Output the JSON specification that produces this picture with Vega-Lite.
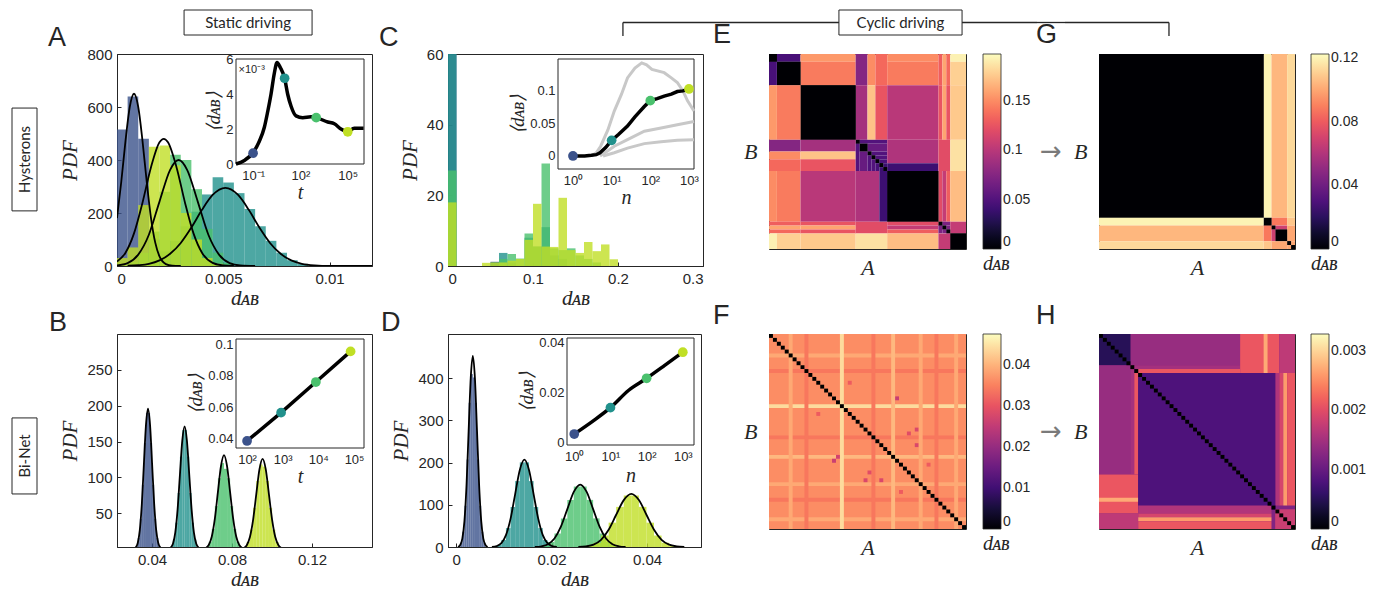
{
"$schema":"https://vega.github.io/schema/vega-lite/v6.json",
"padding":{"left":11,"top":9,"right":0,"bottom":0},
"columns":11,
"bounds":"flush",
"center":true,
"spacing":{"row":19,"column":0},
"resolve":{"scale":{"color":"independent"},"legend":{"color":"independent"}},
"config":{
 "view":{"stroke":null},
 "font":"Liberation Sans",
 "axis":{"grid":false,"labelFont":"Liberation Sans","labelFontSize":15,"labelColor":"#262626","titleFont":"Liberation Serif","titleFontStyle":"italic","titleFontWeight":"normal","titleFontSize":21,"titleColor":"#262626","domainColor":"#262626","tickColor":"#262626","tickSize":-4,"labelPadding":9,"zindex":1},
 "axisX":{"titlePadding":1},
 "axisY":{"titlePadding":6},
 "legend":{"labelFont":"Liberation Sans","labelFontSize":14,"labelColor":"#262626","titleFont":"Liberation Serif","titleFontStyle":"italic","titleFontWeight":"normal","titleFontSize":20,"titleColor":"#262626","gradientThickness":18,"gradientLength":195,"titleOrient":"bottom","padding":0,"offset":17,"gradientStrokeColor":"#262626","gradientStrokeWidth":0.8,"labelOffset":4},
 "title":{"font":"Liberation Sans","fontSize":27,"fontWeight":"normal","color":"#262626","anchor":"start","frame":"group","offset":0,"baseline":"alphabetic","orient":"top"}
},
"datasets":{
"histA":[
{"s":"b","a":0,"b":0.0005,"y":515},{"s":"b","a":0.0005,"b":0.001,"y":640},{"s":"b","a":0.001,"b":0.0015,"y":480},{"s":"b","a":0.0015,"b":0.002,"y":100},{"s":"b","a":0.002,"b":0.0025,"y":25},
{"s":"t","a":0.0005,"b":0.001,"y":5},{"s":"t","a":0.001,"b":0.0015,"y":12},{"s":"t","a":0.0015,"b":0.002,"y":28},{"s":"t","a":0.002,"b":0.0025,"y":55},{"s":"t","a":0.0025,"b":0.003,"y":95},{"s":"t","a":0.003,"b":0.0035,"y":150},{"s":"t","a":0.0035,"b":0.004,"y":205},{"s":"t","a":0.004,"b":0.0045,"y":270},{"s":"t","a":0.0045,"b":0.005,"y":335},{"s":"t","a":0.005,"b":0.0055,"y":315},{"s":"t","a":0.0055,"b":0.006,"y":275},{"s":"t","a":0.006,"b":0.0065,"y":215},{"s":"t","a":0.0065,"b":0.007,"y":150},{"s":"t","a":0.007,"b":0.0075,"y":95},{"s":"t","a":0.0075,"b":0.008,"y":50},{"s":"t","a":0.008,"b":0.0085,"y":22},{"s":"t","a":0.0085,"b":0.009,"y":8},
{"s":"g","a":0,"b":0.0005,"y":5},{"s":"g","a":0.0005,"b":0.001,"y":15},{"s":"g","a":0.001,"b":0.0015,"y":50},{"s":"g","a":0.0015,"b":0.002,"y":130},{"s":"g","a":0.002,"b":0.0025,"y":280},{"s":"g","a":0.0025,"b":0.003,"y":420},{"s":"g","a":0.003,"b":0.0035,"y":400},{"s":"g","a":0.0035,"b":0.004,"y":290},{"s":"g","a":0.004,"b":0.0045,"y":140},{"s":"g","a":0.0045,"b":0.005,"y":50},{"s":"g","a":0.005,"b":0.0055,"y":12},
{"s":"y","a":0,"b":0.0005,"y":30},{"s":"y","a":0.0005,"b":0.001,"y":70},{"s":"y","a":0.001,"b":0.0015,"y":230},{"s":"y","a":0.0015,"b":0.002,"y":450},{"s":"y","a":0.002,"b":0.0025,"y":455},{"s":"y","a":0.0025,"b":0.003,"y":380},{"s":"y","a":0.003,"b":0.0035,"y":200},{"s":"y","a":0.0035,"b":0.004,"y":100},{"s":"y","a":0.004,"b":0.0045,"y":30},{"s":"y","a":0.0045,"b":0.005,"y":8}
],
"curveA":[
{"s":"b","x":0,"y":181},{"s":"b","x":0.0002,"y":317},{"s":"b","x":0.0004,"y":472},{"s":"b","x":0.0006,"y":600},{"s":"b","x":0.0008,"y":650},{"s":"b","x":0.001,"y":600},{"s":"b","x":0.0012,"y":472},{"s":"b","x":0.0014,"y":317},{"s":"b","x":0.0016,"y":181},{"s":"b","x":0.0018,"y":88},{"s":"b","x":0.002,"y":36},{"s":"b","x":0.0023,"y":7},{"s":"b","x":0.0026,"y":1},{"s":"b","x":0.003,"y":0},
{"s":"y","x":0,"y":17},{"s":"y","x":0.0004,"y":50},{"s":"y","x":0.0008,"y":123},{"s":"y","x":0.0012,"y":239},{"s":"y","x":0.0016,"y":373},{"s":"y","x":0.002,"y":467},{"s":"y","x":0.0022,"y":480},{"s":"y","x":0.0024,"y":467},{"s":"y","x":0.0028,"y":373},{"s":"y","x":0.0032,"y":239},{"s":"y","x":0.0036,"y":123},{"s":"y","x":0.004,"y":50},{"s":"y","x":0.0045,"y":12},{"s":"y","x":0.005,"y":2},{"s":"y","x":0.0055,"y":0},
{"s":"g","x":0,"y":2},{"s":"g","x":0.0005,"y":11},{"s":"g","x":0.001,"y":43},{"s":"g","x":0.0015,"y":118},{"s":"g","x":0.002,"y":243},{"s":"g","x":0.0025,"y":363},{"s":"g","x":0.0029,"y":400},{"s":"g","x":0.0033,"y":363},{"s":"g","x":0.0038,"y":243},{"s":"g","x":0.0043,"y":118},{"s":"g","x":0.0048,"y":43},{"s":"g","x":0.0053,"y":11},{"s":"g","x":0.0058,"y":2},{"s":"g","x":0.0065,"y":0},
{"s":"t","x":0.0005,"y":1},{"s":"t","x":0.001,"y":3},{"s":"t","x":0.0015,"y":8},{"s":"t","x":0.002,"y":21},{"s":"t","x":0.0025,"y":46},{"s":"t","x":0.003,"y":87},{"s":"t","x":0.0035,"y":145},{"s":"t","x":0.004,"y":212},{"s":"t","x":0.0045,"y":268},{"s":"t","x":0.0051,"y":295},{"s":"t","x":0.0057,"y":268},{"s":"t","x":0.0062,"y":212},{"s":"t","x":0.0067,"y":145},{"s":"t","x":0.0072,"y":87},{"s":"t","x":0.0077,"y":46},{"s":"t","x":0.0082,"y":21},{"s":"t","x":0.0087,"y":8},{"s":"t","x":0.0093,"y":2},{"s":"t","x":0.01,"y":0},{"s":"t","x":0.012,"y":0}
],
"insA":[
{"t":0.0083,"v":0},{"t":0.028,"v":0.0002},{"t":0.1,"v":0.00065},{"t":0.25,"v":0.0013},{"t":0.52,"v":0.0021},{"t":0.85,"v":0.003},{"t":1.38,"v":0.004},{"t":2.24,"v":0.0052},{"t":3.3,"v":0.0058},{"t":5.4,"v":0.0055},{"t":10,"v":0.0049},{"t":15.5,"v":0.004},{"t":25.7,"v":0.0033},{"t":52.5,"v":0.00275},{"t":141,"v":0.00265},{"t":468,"v":0.0027},{"t":1000,"v":0.00265},{"t":5370,"v":0.0024},{"t":14100,"v":0.0023},{"t":37150,"v":0.002},{"t":100000,"v":0.00185},{"t":257000,"v":0.00205},{"t":1000000,"v":0.00205}
],
"ptsA":[{"s":"b","t":0.1,"v":0.00062},{"s":"t","t":10,"v":0.0049},{"s":"g","t":1000,"v":0.00265},{"s":"y","t":100000,"v":0.00184}],
"histC":[
{"s":"b","a":0,"b":0.01,"y":100},{"s":"b","a":0.05,"b":0.06,"y":1.2},
{"s":"t","a":0,"b":0.01,"y":80},{"s":"t","a":0.05,"b":0.06,"y":1},{"s":"t","a":0.06,"b":0.07,"y":3.7},{"s":"t","a":0.07,"b":0.08,"y":1},{"s":"t","a":0.09,"b":0.1,"y":8},{"s":"t","a":0.1,"b":0.11,"y":5.5},{"s":"t","a":0.11,"b":0.12,"y":11},{"s":"t","a":0.12,"b":0.13,"y":3},{"s":"t","a":0.13,"b":0.14,"y":2},
{"s":"g","a":0,"b":0.01,"y":27},{"s":"g","a":0.06,"b":0.07,"y":2},{"s":"g","a":0.07,"b":0.08,"y":3.4},{"s":"g","a":0.08,"b":0.09,"y":2.1},{"s":"g","a":0.09,"b":0.1,"y":9.2},{"s":"g","a":0.1,"b":0.11,"y":5.5},{"s":"g","a":0.11,"b":0.12,"y":29},{"s":"g","a":0.12,"b":0.13,"y":5},{"s":"g","a":0.13,"b":0.14,"y":4.5},{"s":"g","a":0.14,"b":0.15,"y":5},{"s":"g","a":0.15,"b":0.16,"y":3},{"s":"g","a":0.16,"b":0.17,"y":2},{"s":"g","a":0.17,"b":0.18,"y":1},
{"s":"y","a":0,"b":0.01,"y":18},{"s":"y","a":0.04,"b":0.05,"y":0.9},{"s":"y","a":0.05,"b":0.06,"y":1},{"s":"y","a":0.06,"b":0.07,"y":1},{"s":"y","a":0.07,"b":0.08,"y":1.5},{"s":"y","a":0.08,"b":0.09,"y":2},{"s":"y","a":0.09,"b":0.1,"y":7.4},{"s":"y","a":0.1,"b":0.11,"y":17.6},{"s":"y","a":0.11,"b":0.12,"y":5.5},{"s":"y","a":0.12,"b":0.13,"y":5.4},{"s":"y","a":0.13,"b":0.14,"y":19.3},{"s":"y","a":0.14,"b":0.15,"y":4.5},{"s":"y","a":0.15,"b":0.16,"y":3.7},{"s":"y","a":0.16,"b":0.17,"y":6.8},{"s":"y","a":0.17,"b":0.18,"y":4.2},{"s":"y","a":0.18,"b":0.19,"y":6.1},{"s":"y","a":0.19,"b":0.2,"y":1.9}
],
"insCg":[
{"s":"g1","n":3,"v":0},{"s":"g1","n":4,"v":0.005},{"s":"g1","n":5.2,"v":0.015},{"s":"g1","n":8,"v":0.04},{"s":"g1","n":11.7,"v":0.069},{"s":"g1","n":18,"v":0.095},{"s":"g1","n":25.7,"v":0.12},{"s":"g1","n":40,"v":0.135},{"s":"g1","n":60,"v":0.143},{"s":"g1","n":80,"v":0.14},{"s":"g1","n":110,"v":0.133},{"s":"g1","n":229,"v":0.128},{"s":"g1","n":350,"v":0.12},{"s":"g1","n":500,"v":0.113},{"s":"g1","n":700,"v":0.1},{"s":"g1","n":912,"v":0.085},{"s":"g1","n":1350,"v":0.069},
{"s":"g2","n":5,"v":0},{"s":"g2","n":8,"v":0.008},{"s":"g2","n":11.7,"v":0.015},{"s":"g2","n":25.7,"v":0.025},{"s":"g2","n":70,"v":0.038},{"s":"g2","n":190,"v":0.043},{"s":"g2","n":500,"v":0.048},{"s":"g2","n":1350,"v":0.053},
{"s":"g3","n":6,"v":0},{"s":"g3","n":11.7,"v":0.005},{"s":"g3","n":25.7,"v":0.012},{"s":"g3","n":70,"v":0.019},{"s":"g3","n":190,"v":0.022},{"s":"g3","n":500,"v":0.024},{"s":"g3","n":1350,"v":0.025}
],
"insCk":[
{"n":1,"v":0},{"n":2,"v":0},{"n":3,"v":0.001},{"n":4,"v":0.002},{"n":5,"v":0.005},{"n":7,"v":0.013},{"n":10,"v":0.024},{"n":15,"v":0.033},{"n":25.7,"v":0.046},{"n":40,"v":0.06},{"n":51,"v":0.067},{"n":70,"v":0.076},{"n":100,"v":0.085},{"n":150,"v":0.088},{"n":229,"v":0.092},{"n":350,"v":0.095},{"n":500,"v":0.099},{"n":700,"v":0.1},{"n":1000,"v":0.103}
],
"ptsC":[{"s":"b","n":1,"v":0},{"s":"t","n":10,"v":0.024},{"s":"g","n":100,"v":0.085},{"s":"y","n":1000,"v":0.103}],
"histB":[
{"s":"b","a":0.03185,"b":0.03288,"y":4.5},{"s":"b","a":0.03288,"b":0.0339,"y":15.6},{"s":"b","a":0.0339,"b":0.03493,"y":42.3},{"s":"b","a":0.03493,"b":0.03595,"y":89.8},{"s":"b","a":0.03595,"b":0.03698,"y":148},{"s":"b","a":0.03698,"b":0.038,"y":190},{"s":"b","a":0.038,"b":0.03903,"y":190},{"s":"b","a":0.03903,"b":0.04005,"y":148},{"s":"b","a":0.04005,"b":0.04108,"y":89.8},{"s":"b","a":0.04108,"b":0.0421,"y":42.3},{"s":"b","a":0.0421,"b":0.04313,"y":15.6},{"s":"b","a":0.04313,"b":0.04415,"y":4.5},
{"s":"t","a":0.0493,"b":0.05047,"y":3.9},{"s":"t","a":0.05047,"b":0.05163,"y":13.6},{"s":"t","a":0.05163,"b":0.0528,"y":36.9},{"s":"t","a":0.0528,"b":0.05396,"y":78.3},{"s":"t","a":0.05396,"b":0.05513,"y":129},{"s":"t","a":0.05513,"b":0.0563,"y":166},{"s":"t","a":0.0563,"b":0.05747,"y":166},{"s":"t","a":0.05747,"b":0.05863,"y":129},{"s":"t","a":0.05863,"b":0.0598,"y":78.3},{"s":"t","a":0.0598,"b":0.06096,"y":36.9},{"s":"t","a":0.06096,"b":0.06213,"y":13.6},{"s":"t","a":0.06213,"b":0.0633,"y":3.9},
{"s":"g","a":0.06685,"b":0.06838,"y":3},{"s":"g","a":0.06838,"b":0.0699,"y":10.4},{"s":"g","a":0.0699,"b":0.07143,"y":28.3},{"s":"g","a":0.07143,"b":0.07295,"y":60},{"s":"g","a":0.07295,"b":0.07448,"y":98.9},{"s":"g","a":0.07448,"b":0.076,"y":120},{"s":"g","a":0.076,"b":0.07753,"y":112},{"s":"g","a":0.07753,"b":0.07905,"y":98.9},{"s":"g","a":0.07905,"b":0.08058,"y":60},{"s":"g","a":0.08058,"b":0.0821,"y":28.3},{"s":"g","a":0.0821,"b":0.08363,"y":10.4},{"s":"g","a":0.08363,"b":0.08515,"y":3},
{"s":"y","a":0.08579,"b":0.08738,"y":2.9},{"s":"y","a":0.08738,"b":0.08896,"y":10},{"s":"y","a":0.08896,"b":0.09055,"y":27.2},{"s":"y","a":0.09055,"b":0.09213,"y":57.7},{"s":"y","a":0.09213,"b":0.09372,"y":95.1},{"s":"y","a":0.09372,"b":0.0953,"y":118},{"s":"y","a":0.0953,"b":0.09689,"y":115},{"s":"y","a":0.09689,"b":0.09847,"y":95.1},{"s":"y","a":0.09847,"b":0.10006,"y":57.7},{"s":"y","a":0.10006,"b":0.10164,"y":27.2},{"s":"y","a":0.10164,"b":0.10323,"y":10},{"s":"y","a":0.10323,"b":0.10481,"y":2.9}
],
"curveB":[
{"s":"b","x":0.0311,"y":0},{"s":"b","x":0.03185,"y":2.2},{"s":"b","x":0.03288,"y":8.6},{"s":"b","x":0.0339,"y":26.5},{"s":"b","x":0.03493,"y":63.6},{"s":"b","x":0.03595,"y":118.9},{"s":"b","x":0.03698,"y":173},{"s":"b","x":0.038,"y":196},{"s":"b","x":0.03903,"y":173},{"s":"b","x":0.04005,"y":118.9},{"s":"b","x":0.04108,"y":63.6},{"s":"b","x":0.0421,"y":26.5},{"s":"b","x":0.04313,"y":8.6},{"s":"b","x":0.04415,"y":2.2},{"s":"b","x":0.0449,"y":0},
{"s":"t","x":0.0484,"y":0},{"s":"t","x":0.0493,"y":1.9},{"s":"t","x":0.05047,"y":7.5},{"s":"t","x":0.05163,"y":23.1},{"s":"t","x":0.0528,"y":55.5},{"s":"t","x":0.05396,"y":103.7},{"s":"t","x":0.05513,"y":150.9},{"s":"t","x":0.0563,"y":171},{"s":"t","x":0.05747,"y":150.9},{"s":"t","x":0.05863,"y":103.7},{"s":"t","x":0.0598,"y":55.5},{"s":"t","x":0.06096,"y":23.1},{"s":"t","x":0.06213,"y":7.5},{"s":"t","x":0.0633,"y":1.9},{"s":"t","x":0.0642,"y":0},
{"s":"g","x":0.0657,"y":0},{"s":"g","x":0.06685,"y":1.5},{"s":"g","x":0.06838,"y":5.8},{"s":"g","x":0.0699,"y":17.7},{"s":"g","x":0.07143,"y":42.5},{"s":"g","x":0.07295,"y":79.5},{"s":"g","x":0.07448,"y":115.6},{"s":"g","x":0.076,"y":131},{"s":"g","x":0.07753,"y":115.6},{"s":"g","x":0.07905,"y":79.5},{"s":"g","x":0.08058,"y":42.5},{"s":"g","x":0.0821,"y":17.7},{"s":"g","x":0.08363,"y":5.8},{"s":"g","x":0.08515,"y":1.5},{"s":"g","x":0.0863,"y":0},
{"s":"y","x":0.0846,"y":0},{"s":"y","x":0.08579,"y":1.4},{"s":"y","x":0.08738,"y":5.5},{"s":"y","x":0.08896,"y":17},{"s":"y","x":0.09055,"y":40.9},{"s":"y","x":0.09213,"y":76.4},{"s":"y","x":0.09372,"y":111.2},{"s":"y","x":0.0953,"y":126},{"s":"y","x":0.09689,"y":111.2},{"s":"y","x":0.09847,"y":76.4},{"s":"y","x":0.10006,"y":40.9},{"s":"y","x":0.10164,"y":17},{"s":"y","x":0.10323,"y":5.5},{"s":"y","x":0.10481,"y":1.4},{"s":"y","x":0.106,"y":0}
],
"ptsB":[{"s":"b","t":100,"v":0.0385},{"s":"t","t":900,"v":0.0565},{"s":"g","t":8500,"v":0.076},{"s":"y","t":80000,"v":0.0955}],
"histD":[
{"s":"b","a":0.00086,"b":0.0013,"y":10.3},{"s":"b","a":0.0013,"b":0.00174,"y":36.1},{"s":"b","a":0.00174,"b":0.00218,"y":97.8},{"s":"b","a":0.00218,"b":0.00262,"y":207.5},{"s":"b","a":0.00262,"b":0.00306,"y":342},{"s":"b","a":0.00306,"b":0.0035,"y":410},{"s":"b","a":0.0035,"b":0.00394,"y":402},{"s":"b","a":0.00394,"b":0.00438,"y":342},{"s":"b","a":0.00438,"b":0.00482,"y":207.5},{"s":"b","a":0.00482,"b":0.00526,"y":97.8},{"s":"b","a":0.00526,"b":0.0057,"y":36.1},{"s":"b","a":0.0057,"b":0.00614,"y":10.3},
{"s":"t","a":0.00851,"b":0.00948,"y":4.7},{"s":"t","a":0.00948,"b":0.01044,"y":16.5},{"s":"t","a":0.01044,"b":0.01141,"y":44.8},{"s":"t","a":0.01141,"b":0.01237,"y":94.8},{"s":"t","a":0.01237,"b":0.01334,"y":156.3},{"s":"t","a":0.01334,"b":0.0143,"y":200.6},{"s":"t","a":0.0143,"b":0.01527,"y":200.6},{"s":"t","a":0.01527,"b":0.01623,"y":156.3},{"s":"t","a":0.01623,"b":0.0172,"y":94.8},{"s":"t","a":0.0172,"b":0.01816,"y":44.8},{"s":"t","a":0.01816,"b":0.01913,"y":16.5},{"s":"t","a":0.01913,"b":0.02009,"y":4.7},
{"s":"g","a":0.0179,"b":0.01925,"y":3.4},{"s":"g","a":0.01925,"b":0.0206,"y":11.8},{"s":"g","a":0.0206,"b":0.02195,"y":32},{"s":"g","a":0.02195,"b":0.0233,"y":67.8},{"s":"g","a":0.0233,"b":0.02465,"y":111.7},{"s":"g","a":0.02465,"b":0.026,"y":143.4},{"s":"g","a":0.026,"b":0.02735,"y":143.4},{"s":"g","a":0.02735,"b":0.0287,"y":111.7},{"s":"g","a":0.0287,"b":0.03005,"y":67.8},{"s":"g","a":0.03005,"b":0.0314,"y":32},{"s":"g","a":0.0314,"b":0.03275,"y":11.8},{"s":"g","a":0.03275,"b":0.0341,"y":3.4},
{"s":"y","a":0.02719,"b":0.02878,"y":2.9},{"s":"y","a":0.02878,"b":0.03036,"y":10},{"s":"y","a":0.03036,"b":0.03195,"y":27.2},{"s":"y","a":0.03195,"b":0.03353,"y":57.7},{"s":"y","a":0.03353,"b":0.03512,"y":95.1},{"s":"y","a":0.03512,"b":0.0367,"y":122.1},{"s":"y","a":0.0367,"b":0.03829,"y":122.1},{"s":"y","a":0.03829,"b":0.03987,"y":95.1},{"s":"y","a":0.03987,"b":0.04146,"y":57.7},{"s":"y","a":0.04146,"b":0.04304,"y":27.2},{"s":"y","a":0.04304,"b":0.04463,"y":10},{"s":"y","a":0.04463,"b":0.04621,"y":2.9}
],
"curveD":[
{"s":"b","x":0.0004,"y":0},{"s":"b","x":0.00086,"y":5},{"s":"b","x":0.0013,"y":19.9},{"s":"b","x":0.00174,"y":61.3},{"s":"b","x":0.00218,"y":147},{"s":"b","x":0.00262,"y":274.7},{"s":"b","x":0.00306,"y":399.8},{"s":"b","x":0.0035,"y":453},{"s":"b","x":0.00394,"y":399.8},{"s":"b","x":0.00438,"y":274.7},{"s":"b","x":0.00482,"y":147},{"s":"b","x":0.00526,"y":61.3},{"s":"b","x":0.0057,"y":19.9},{"s":"b","x":0.00614,"y":5},{"s":"b","x":0.0066,"y":0},
{"s":"t","x":0.0075,"y":0},{"s":"t","x":0.00851,"y":2.3},{"s":"t","x":0.00948,"y":9.1},{"s":"t","x":0.01044,"y":28},{"s":"t","x":0.01141,"y":67.2},{"s":"t","x":0.01237,"y":125.5},{"s":"t","x":0.01334,"y":182.7},{"s":"t","x":0.0143,"y":207},{"s":"t","x":0.01527,"y":182.7},{"s":"t","x":0.01623,"y":125.5},{"s":"t","x":0.0172,"y":67.2},{"s":"t","x":0.01816,"y":28},{"s":"t","x":0.01913,"y":9.1},{"s":"t","x":0.02009,"y":2.3},{"s":"t","x":0.0211,"y":0},
{"s":"g","x":0.0165,"y":0},{"s":"g","x":0.0179,"y":1.6},{"s":"g","x":0.01925,"y":6.5},{"s":"g","x":0.0206,"y":20},{"s":"g","x":0.02195,"y":48.1},{"s":"g","x":0.0233,"y":89.8},{"s":"g","x":0.02465,"y":130.6},{"s":"g","x":0.026,"y":148},{"s":"g","x":0.02735,"y":130.6},{"s":"g","x":0.0287,"y":89.8},{"s":"g","x":0.03005,"y":48.1},{"s":"g","x":0.0314,"y":20},{"s":"g","x":0.03275,"y":6.5},{"s":"g","x":0.0341,"y":1.6},{"s":"g","x":0.0355,"y":0},
{"s":"y","x":0.0256,"y":0},{"s":"y","x":0.02719,"y":1.4},{"s":"y","x":0.02878,"y":5.5},{"s":"y","x":0.03036,"y":17},{"s":"y","x":0.03195,"y":40.9},{"s":"y","x":0.03353,"y":76.4},{"s":"y","x":0.03512,"y":111.2},{"s":"y","x":0.0367,"y":126},{"s":"y","x":0.03829,"y":111.2},{"s":"y","x":0.03987,"y":76.4},{"s":"y","x":0.04146,"y":40.9},{"s":"y","x":0.04304,"y":17},{"s":"y","x":0.04463,"y":5.5},{"s":"y","x":0.04621,"y":1.4},{"s":"y","x":0.0478,"y":0}
],
"insD":[{"n":1,"v":0.0034},{"n":3.2,"v":0.0085},{"n":10,"v":0.014},{"n":32,"v":0.021},{"n":100,"v":0.0258},{"n":316,"v":0.031},{"n":1000,"v":0.0363}],
"ptsD":[{"s":"b","n":1,"v":0.0034},{"s":"t","n":10,"v":0.014},{"s":"g","n":100,"v":0.0258},{"s":"y","n":1000,"v":0.0363}],
"E":[
{"r0":0,"r1":2,"c0":0,"c1":2,"v":0},{"r0":2,"r1":8,"c0":2,"c1":8,"v":0},{"r0":8,"r1":22,"c0":8,"c1":22,"v":0},{"r0":22,"r1":23,"c0":22,"c1":23,"v":0},{"r0":23,"r1":25,"c0":23,"c1":25,"v":0},{"r0":25,"r1":26,"c0":25,"c1":26,"v":0},{"r0":26,"r1":27,"c0":26,"c1":27,"v":0},{"r0":27,"r1":28,"c0":27,"c1":28,"v":0},{"r0":28,"r1":29,"c0":28,"c1":29,"v":0},{"r0":29,"r1":30,"c0":29,"c1":30,"v":0},{"r0":30,"r1":43,"c0":30,"c1":43,"v":0},{"r0":43,"r1":44,"c0":43,"c1":44,"v":0},{"r0":44,"r1":45,"c0":44,"c1":45,"v":0},{"r0":45,"r1":46,"c0":45,"c1":46,"v":0},{"r0":46,"r1":50,"c0":46,"c1":50,"v":0},
{"r0":0,"r1":2,"c0":2,"c1":8,"v":0.045},{"r0":0,"r1":2,"c0":8,"c1":22,"v":0.155},{"r0":2,"r1":8,"c0":8,"c1":22,"v":0.143},{"r0":0,"r1":8,"c0":22,"c1":25,"v":0.075},{"r0":0,"r1":8,"c0":25,"c1":27,"v":0.15},{"r0":0,"r1":8,"c0":27,"c1":30,"v":0.135},{"r0":0,"r1":2,"c0":30,"c1":43,"v":0.15},{"r0":2,"r1":8,"c0":30,"c1":43,"v":0.143},{"r0":0,"r1":8,"c0":43,"c1":44,"v":0.13},{"r0":0,"r1":8,"c0":44,"c1":45,"v":0.16},{"r0":0,"r1":8,"c0":45,"c1":46,"v":0.135},{"r0":0,"r1":2,"c0":46,"c1":50,"v":0.192},{"r0":2,"r1":8,"c0":46,"c1":50,"v":0.178},
{"r0":8,"r1":22,"c0":22,"c1":25,"v":0.09},{"r0":8,"r1":22,"c0":25,"c1":27,"v":0.172},{"r0":8,"r1":22,"c0":27,"c1":30,"v":0.125},{"r0":8,"r1":22,"c0":30,"c1":43,"v":0.1},{"r0":8,"r1":22,"c0":43,"c1":44,"v":0.125},{"r0":8,"r1":22,"c0":44,"c1":45,"v":0.16},{"r0":8,"r1":22,"c0":45,"c1":46,"v":0.125},{"r0":8,"r1":22,"c0":46,"c1":50,"v":0.175},
{"r0":22,"r1":23,"c0":23,"c1":30,"v":0.05},{"r0":23,"r1":25,"c0":25,"c1":30,"v":0.06},{"r0":25,"r1":26,"c0":26,"c1":30,"v":0.05},{"r0":26,"r1":27,"c0":27,"c1":30,"v":0.05},{"r0":27,"r1":28,"c0":28,"c1":30,"v":0.045},{"r0":28,"r1":29,"c0":29,"c1":30,"v":0.04},
{"r0":22,"r1":28,"c0":30,"c1":43,"v":0.095},{"r0":28,"r1":30,"c0":30,"c1":43,"v":0.04},{"r0":22,"r1":30,"c0":43,"c1":46,"v":0.12},{"r0":22,"r1":30,"c0":46,"c1":50,"v":0.185},
{"r0":30,"r1":43,"c0":43,"c1":44,"v":0.12},{"r0":30,"r1":43,"c0":44,"c1":45,"v":0.105},{"r0":30,"r1":43,"c0":45,"c1":46,"v":0.13},{"r0":30,"r1":43,"c0":46,"c1":50,"v":0.17},
{"r0":43,"r1":44,"c0":44,"c1":46,"v":0.07},{"r0":44,"r1":45,"c0":45,"c1":46,"v":0.07},{"r0":43,"r1":46,"c0":46,"c1":50,"v":0.105}
],
"G":[
{"r0":0,"r1":42,"c0":0,"c1":42,"v":0},{"r0":42,"r1":44,"c0":42,"c1":44,"v":0},{"r0":44,"r1":45,"c0":44,"c1":45,"v":0},{"r0":45,"r1":48,"c0":45,"c1":48,"v":0},{"r0":48,"r1":49,"c0":48,"c1":49,"v":0},{"r0":49,"r1":50,"c0":49,"c1":50,"v":0},
{"r0":0,"r1":42,"c0":42,"c1":44,"v":0.12},{"r0":0,"r1":42,"c0":44,"c1":48,"v":0.104},{"r0":0,"r1":42,"c0":48,"c1":50,"v":0.113},{"r0":42,"r1":44,"c0":44,"c1":48,"v":0.088},{"r0":42,"r1":44,"c0":48,"c1":50,"v":0.108},{"r0":44,"r1":45,"c0":45,"c1":48,"v":0.068},{"r0":44,"r1":48,"c0":48,"c1":50,"v":0.1},{"r0":48,"r1":49,"c0":49,"c1":50,"v":0.1}
],
"Fbase":[{"r0":0,"r1":50,"c0":0,"c1":50,"v":0.0362}],
"Fcells":[
{"r0":5,"r1":6,"c0":0,"c1":50,"v":0.039},{"r0":18,"r1":19,"c0":0,"c1":50,"v":0.044},{"r0":31,"r1":32,"c0":0,"c1":50,"v":0.0405},{"r0":38,"r1":39,"c0":0,"c1":50,"v":0.039},{"r0":47,"r1":48,"c0":0,"c1":50,"v":0.039},{"r0":9,"r1":10,"c0":0,"c1":50,"v":0.034},{"r0":26,"r1":27,"c0":0,"c1":50,"v":0.034},{"r0":42,"r1":43,"c0":0,"c1":50,"v":0.034},
{"r0":16,"r1":17,"c0":32,"c1":33,"v":0.026},{"r0":17,"r1":18,"c0":31,"c1":32,"v":0.027},{"r0":24,"r1":25,"c0":37,"c1":38,"v":0.028},{"r0":25,"r1":26,"c0":35,"c1":36,"v":0.029},{"r0":28,"r1":29,"c0":37,"c1":38,"v":0.028},{"r0":12,"r1":13,"c0":20,"c1":21,"v":0.031},{"r0":33,"r1":34,"c0":40,"c1":41,"v":0.031}
],
"Hbase":[{"r0":0,"r1":50,"c0":0,"c1":50,"v":0.0012}],
"Hcells":[
{"r0":0,"r1":8,"c0":0,"c1":8,"v":0.0005},{"r0":0,"r1":8,"c0":8,"c1":36,"v":0.0014},{"r0":8,"r1":9,"c0":8,"c1":36,"v":0.0015},{"r0":9,"r1":10,"c0":10,"c1":36,"v":0.0021},{"r0":0,"r1":10,"c0":36,"c1":46,"v":0.0021},{"r0":0,"r1":10,"c0":42,"c1":43,"v":0.0027},{"r0":0,"r1":10,"c0":46,"c1":50,"v":0.0017},
{"r0":10,"r1":45,"c0":10,"c1":45,"v":0.0008},{"r0":10,"r1":44,"c0":44,"c1":46,"v":0.0016},{"r0":10,"r1":44,"c0":46,"c1":47,"v":0.0019},{"r0":10,"r1":44,"c0":47,"c1":48,"v":0.0026},{"r0":10,"r1":44,"c0":48,"c1":50,"v":0.0021},{"r0":45,"r1":50,"c0":45,"c1":50,"v":0.0018}
],
"diag":[{"a":0,"b":1},{"a":1,"b":2},{"a":2,"b":3},{"a":3,"b":4},{"a":4,"b":5},{"a":5,"b":6},{"a":6,"b":7},{"a":7,"b":8},{"a":8,"b":9},{"a":9,"b":10},{"a":10,"b":11},{"a":11,"b":12},{"a":12,"b":13},{"a":13,"b":14},{"a":14,"b":15},{"a":15,"b":16},{"a":16,"b":17},{"a":17,"b":18},{"a":18,"b":19},{"a":19,"b":20},{"a":20,"b":21},{"a":21,"b":22},{"a":22,"b":23},{"a":23,"b":24},{"a":24,"b":25},{"a":25,"b":26},{"a":26,"b":27},{"a":27,"b":28},{"a":28,"b":29},{"a":29,"b":30},{"a":30,"b":31},{"a":31,"b":32},{"a":32,"b":33},{"a":33,"b":34},{"a":34,"b":35},{"a":35,"b":36},{"a":36,"b":37},{"a":37,"b":38},{"a":38,"b":39},{"a":39,"b":40},{"a":40,"b":41},{"a":41,"b":42},{"a":42,"b":43},{"a":43,"b":44},{"a":44,"b":45},{"a":45,"b":46},{"a":46,"b":47},{"a":47,"b":48},{"a":48,"b":49},{"a":49,"b":50}]
},
"concat":[
 {"width":25,"height":25,"data":{"values":[{}]},"mark":{"type":"text","text":""}},
 {"width":80,"height":25,"data":{"values":[{}]},"mark":{"type":"text","text":""}},
 {"width":255,"height":25,"data":{"values":[{}]},"layer":[
  {"mark":{"type":"rect","fill":"white","stroke":"#262626","strokeWidth":1},"encoding":{"x":{"datum":0.263,"type":"quantitative","scale":{"domain":[0,1],"nice":false},"axis":null},"x2":{"datum":0.765},"y":{"datum":0,"type":"quantitative","scale":{"domain":[0,1],"nice":false},"axis":null},"y2":{"datum":1}}},
  {"mark":{"type":"text","text":"Static driving","font":"Lato","fontSize":15,"color":"#262626"},"encoding":{"x":{"datum":0.514,"type":"quantitative"},"y":{"datum":0.5,"type":"quantitative"}}}
 ]},
 {"width":76,"height":25,"data":{"values":[{}]},"mark":{"type":"text","text":""}},
 {"width":255,"height":25,"data":{"values":[{}]},"layer":[
  {"mark":{"type":"rule","color":"#262626","strokeWidth":1.3},"encoding":{"x":{"datum":0.686,"type":"quantitative","scale":{"domain":[0,1],"nice":false},"axis":null},"x2":{"datum":1},"y":{"datum":0.5,"type":"quantitative","scale":{"domain":[0,1],"nice":false},"axis":null}}},
  {"mark":{"type":"rule","color":"#262626","strokeWidth":1.3},"encoding":{"x":{"datum":0.686,"type":"quantitative"},"y":{"datum":0.5,"type":"quantitative"},"y2":{"datum":-0.04}}}
 ]},
 {"width":66,"height":25,"data":{"values":[{}]},"mark":{"type":"rule","color":"#262626","strokeWidth":1.3},"encoding":{"x":{"datum":0,"type":"quantitative","scale":{"domain":[0,1],"nice":false},"axis":null},"x2":{"datum":1},"y":{"datum":0.5,"type":"quantitative","scale":{"domain":[0,1],"nice":false},"axis":null}}},
 {"width":197,"height":25,"data":{"values":[{}]},"layer":[
  {"mark":{"type":"rule","color":"#262626","strokeWidth":1.3},"encoding":{"x":{"datum":0,"type":"quantitative","scale":{"domain":[0,1],"nice":false},"axis":null},"x2":{"datum":1},"y":{"datum":0.5,"type":"quantitative","scale":{"domain":[0,1],"nice":false},"axis":null}}},
  {"mark":{"type":"rect","fill":"white","stroke":"#262626","strokeWidth":1},"encoding":{"x":{"datum":0.355,"type":"quantitative"},"x2":{"datum":0.98},"y":{"datum":0,"type":"quantitative"},"y2":{"datum":1}}},
  {"mark":{"type":"text","text":"Cyclic driving","font":"Lato","fontSize":15,"color":"#262626"},"encoding":{"x":{"datum":0.667,"type":"quantitative"},"y":{"datum":0.5,"type":"quantitative"}}}
 ]},
 {"width":71,"height":25,"data":{"values":[{}]},"mark":{"type":"rule","color":"#262626","strokeWidth":1.3},"encoding":{"x":{"datum":0,"type":"quantitative","scale":{"domain":[0,1],"nice":false},"axis":null},"x2":{"datum":1},"y":{"datum":0.5,"type":"quantitative","scale":{"domain":[0,1],"nice":false},"axis":null}}},
 {"width":28,"height":25,"data":{"values":[{}]},"mark":{"type":"rule","color":"#262626","strokeWidth":1.3},"encoding":{"x":{"datum":0,"type":"quantitative","scale":{"domain":[0,1],"nice":false},"axis":null},"x2":{"datum":1},"y":{"datum":0.5,"type":"quantitative","scale":{"domain":[0,1],"nice":false},"axis":null}}},
 {"width":34,"height":25,"data":{"values":[{}]},"mark":{"type":"rule","color":"#262626","strokeWidth":1.3},"encoding":{"x":{"datum":0,"type":"quantitative","scale":{"domain":[0,1],"nice":false},"axis":null},"x2":{"datum":1},"y":{"datum":0.5,"type":"quantitative","scale":{"domain":[0,1],"nice":false},"axis":null}}},
 {"width":196,"height":25,"data":{"values":[{}]},"layer":[
  {"mark":{"type":"rule","color":"#262626","strokeWidth":1.3},"encoding":{"x":{"datum":0,"type":"quantitative","scale":{"domain":[0,1],"nice":false},"axis":null},"x2":{"datum":0.357},"y":{"datum":0.5,"type":"quantitative","scale":{"domain":[0,1],"nice":false},"axis":null}}},
  {"mark":{"type":"rule","color":"#262626","strokeWidth":1.3},"encoding":{"x":{"datum":0.357,"type":"quantitative"},"y":{"datum":0.5,"type":"quantitative"},"y2":{"datum":-0.04}}}
 ]},

 {"width":25,"height":212,"data":{"values":[{}]},"layer":[
  {"mark":{"type":"rect","fill":"white","stroke":"#262626","strokeWidth":1},"encoding":{"x":{"datum":0,"type":"quantitative","scale":{"domain":[0,1],"nice":false},"axis":null},"x2":{"datum":1},"y":{"datum":0.26,"type":"quantitative","scale":{"domain":[0,1],"nice":false},"axis":null},"y2":{"datum":0.745}}},
  {"mark":{"type":"text","text":"Hysterons","angle":270,"font":"Lato","fontSize":15,"color":"#262626"},"encoding":{"y":{"datum":0.5025,"type":"quantitative"}}}
 ]},
 {"width":80,"height":10,"data":{"values":[{}]},"mark":{"type":"text","text":""}},
 {"width":255,"height":212,"view":{"stroke":"#262626"},"title":{"text":"A","dx":-69,"dy":9},
  "layer":[
   {"layer":[
    {"data":{"name":"histA"},"mark":{"type":"rect","opacity":0.8,"clip":true},"encoding":{"x":{"field":"a","type":"quantitative","scale":{"domain":[0,0.012],"nice":false,"zero":false},"axis":{"values":[0,0.005,0.01],"format":"~g","title":"dᴀʙ"}},"x2":{"field":"b"},"y":{"field":"y","type":"quantitative","scale":{"domain":[0,800],"nice":false},"axis":{"values":[0,200,400,600,800],"title":"PDF"}},"y2":{"datum":0},"color":{"field":"s","type":"nominal","scale":{"domain":["b","t","g","y"],"range":["#3b528b","#21918c","#4ac16d","#c0df25"]},"legend":null}}},
    {"data":{"name":"curveA"},"mark":{"type":"line","color":"black","strokeWidth":1.8,"interpolate":"monotone","clip":true},"encoding":{"x":{"field":"x","type":"quantitative"},"y":{"field":"y","type":"quantitative"},"detail":{"field":"s"}}}
   ]},
   {"layer":[
    {"data":{"values":[{}]},"mark":{"type":"rect","fill":"white","stroke":"#262626","strokeWidth":1},"encoding":{"x":{"datum":0.0083,"type":"quantitative","scale":{"type":"log","domain":[0.0083,1070000],"range":[119,247],"nice":false},"axis":{"orient":"bottom","offset":-102,"values":[0.1,100,100000],"labelExpr":"datum.value < 1 ? '10⁻¹' : (datum.value < 1000 ? '10²' : '10⁵')","title":"t","titleFontSize":20,"titlePadding":0,"domain":false,"ticks":false,"labelFontSize":13,"labelPadding":5,"zindex":1}},"x2":{"datum":1070000},"y":{"datum":0,"type":"quantitative","scale":{"domain":[0,0.006],"range":[110,5],"nice":false,"zero":false},"axis":{"orient":"left","offset":-119,"values":[0,0.002,0.004,0.006],"labelExpr":"format(datum.value*1000,'~g')","title":"⟨dᴀʙ⟩","titleFontSize":19,"titlePadding":2,"domain":false,"ticks":false,"labelFontSize":13,"labelPadding":3,"zindex":1}},"y2":{"datum":0.006}}},
    {"data":{"name":"insA"},"mark":{"type":"line","color":"black","strokeWidth":3.5,"interpolate":"monotone"},"encoding":{"x":{"field":"t","type":"quantitative"},"y":{"field":"v","type":"quantitative"}}},
    {"data":{"name":"ptsA"},"mark":{"type":"circle","size":95,"opacity":1},"encoding":{"x":{"field":"t","type":"quantitative"},"y":{"field":"v","type":"quantitative"},"color":{"field":"s","type":"nominal","scale":{"domain":["b","t","g","y"],"range":["#3b528b","#21918c","#4ac16d","#c0df25"]},"legend":null}}},
    {"data":{"values":[{}]},"mark":{"type":"text","text":"×10⁻³","align":"left","fontSize":11,"font":"Liberation Sans","color":"#262626"},"encoding":{"x":{"datum":0.012,"type":"quantitative"},"y":{"datum":0.0054,"type":"quantitative"}}}
   ]}
  ],
  "resolve":{"scale":{"x":"independent","y":"independent"},"axis":{"x":"independent","y":"independent"}}
 },
 {"width":76,"height":10,"data":{"values":[{}]},"mark":{"type":"text","text":""}},
 {"width":255,"height":212,"view":{"stroke":"#262626"},"title":{"text":"C","dx":-69,"dy":9},
  "layer":[
   {"layer":[
    {"data":{"name":"histC"},"mark":{"type":"rect","opacity":0.8,"clip":true},"encoding":{"x":{"field":"a","type":"quantitative","scale":{"domain":[0,0.3],"nice":false,"zero":false},"axis":{"values":[0,0.1,0.2,0.3],"format":"~g","title":"dᴀʙ"}},"x2":{"field":"b"},"y":{"field":"y","type":"quantitative","scale":{"domain":[0,60],"nice":false},"axis":{"values":[0,20,40,60],"title":"PDF"}},"y2":{"datum":0},"color":{"field":"s","type":"nominal","scale":{"domain":["b","t","g","y"],"range":["#3b528b","#21918c","#4ac16d","#c0df25"]},"legend":null}}}
   ]},
   {"layer":[
    {"data":{"values":[{}]},"mark":{"type":"rect","fill":"white","stroke":"#262626","strokeWidth":1},"encoding":{"x":{"datum":0.41,"type":"quantitative","scale":{"type":"log","domain":[0.41,1350],"range":[110,246],"nice":false},"axis":{"orient":"bottom","offset":-97,"values":[1,10,100,1000],"labelExpr":"'10' + (datum.value < 5 ? '⁰' : (datum.value < 50 ? '¹' : (datum.value < 500 ? '²' : '³')))","title":"n","titleFontSize":20,"titlePadding":0,"domain":false,"ticks":false,"labelFontSize":13,"labelPadding":5,"zindex":1}},"x2":{"datum":1350},"y":{"datum":-0.02,"type":"quantitative","scale":{"domain":[-0.02,0.149],"range":[115,5],"nice":false,"zero":false},"axis":{"orient":"left","offset":-110,"values":[0,0.05,0.1],"format":"~g","title":"⟨dᴀʙ⟩","titleFontSize":19,"titlePadding":2,"domain":false,"ticks":false,"labelFontSize":13,"labelPadding":3,"zindex":1}},"y2":{"datum":0.149}}},
    {"data":{"name":"insCg"},"mark":{"type":"line","color":"#c8c8c8","strokeWidth":3},"encoding":{"x":{"field":"n","type":"quantitative"},"y":{"field":"v","type":"quantitative"},"detail":{"field":"s"}}},
    {"data":{"name":"insCk"},"mark":{"type":"line","color":"black","strokeWidth":3.5},"encoding":{"x":{"field":"n","type":"quantitative"},"y":{"field":"v","type":"quantitative"}}},
    {"data":{"name":"ptsC"},"mark":{"type":"circle","size":95,"opacity":1},"encoding":{"x":{"field":"n","type":"quantitative"},"y":{"field":"v","type":"quantitative"},"color":{"field":"s","type":"nominal","scale":{"domain":["b","t","g","y"],"range":["#3b528b","#21918c","#4ac16d","#c0df25"]},"legend":null}}}
   ]}
  ],
  "resolve":{"scale":{"x":"independent","y":"independent"},"axis":{"x":"independent","y":"independent"}}
 },
 {"width":66,"height":10,"data":{"values":[{}]},"mark":{"type":"text","text":""}},
 {"width":197,"height":195,"view":{"stroke":"#262626"},"title":{"text":"E","dx":-56,"dy":-1},"data":{"name":"E"},
  "layer":[
   {"mark":{"type":"rect"},"encoding":{"x":{"field":"c0","type":"quantitative","scale":{"domain":[0,50],"nice":false,"zero":false},"axis":{"title":"A","labels":false,"ticks":false,"domain":false,"titleFontSize":22,"titlePadding":8}},"x2":{"field":"c1"},"y":{"field":"r0","type":"quantitative","scale":{"domain":[0,50],"nice":false,"reverse":true},"axis":{"title":"B","labels":false,"ticks":false,"domain":false,"titleFontSize":22,"titleAngle":0,"titleAlign":"right","titleBaseline":"middle","titlePadding":12}},"y2":{"field":"r1"},"color":{"field":"v","type":"quantitative","scale":{"scheme":"magma","domain":[0,0.197]},"legend":{"values":[0,0.05,0.1,0.15],"labelExpr":"format(datum.value,'.3~f')","title":"dᴀʙ"}}}},
   {"mark":{"type":"rect"},"encoding":{"x":{"field":"r0","type":"quantitative"},"x2":{"field":"r1"},"y":{"field":"c0","type":"quantitative"},"y2":{"field":"c1"},"color":{"field":"v","type":"quantitative"}}}
  ]
 },
 {"width":71,"height":10,"data":{"values":[{}]},"mark":{"type":"text","text":""}},
 {"width":28,"height":195,"data":{"values":[{}]},"mark":{"type":"text","text":"→","fontSize":26,"color":"#7a7a7a","font":"DejaVu Sans"}},
 {"width":34,"height":10,"data":{"values":[{}]},"mark":{"type":"text","text":""}},
 {"width":196,"height":195,"view":{"stroke":"#262626"},"title":{"text":"G","dx":-63,"dy":-1},"data":{"name":"G"},
  "layer":[
   {"mark":{"type":"rect"},"encoding":{"x":{"field":"c0","type":"quantitative","scale":{"domain":[0,50],"nice":false,"zero":false},"axis":{"title":"A","labels":false,"ticks":false,"domain":false,"titleFontSize":22,"titlePadding":8}},"x2":{"field":"c1"},"y":{"field":"r0","type":"quantitative","scale":{"domain":[0,50],"nice":false,"reverse":true},"axis":{"title":"B","labels":false,"ticks":false,"domain":false,"titleFontSize":22,"titleAngle":0,"titleAlign":"right","titleBaseline":"middle","titlePadding":12}},"y2":{"field":"r1"},"color":{"field":"v","type":"quantitative","scale":{"scheme":"magma","domain":[0,0.1225]},"legend":{"values":[0,0.04,0.08,0.12],"labelExpr":"format(datum.value,'.3~f')","title":"dᴀʙ","offset":16}}}},
   {"mark":{"type":"rect"},"encoding":{"x":{"field":"r0","type":"quantitative"},"x2":{"field":"r1"},"y":{"field":"c0","type":"quantitative"},"y2":{"field":"c1"},"color":{"field":"v","type":"quantitative"}}}
  ]
 },

 {"width":1,"height":30,"data":{"values":[{}]},"mark":{"type":"text","text":""}},
 {"width":1,"height":30,"data":{"values":[{}]},"mark":{"type":"text","text":""}},
 {"width":1,"height":30,"data":{"values":[{}]},"mark":{"type":"text","text":""}},
 {"width":1,"height":30,"data":{"values":[{}]},"mark":{"type":"text","text":""}},
 {"width":1,"height":30,"data":{"values":[{}]},"mark":{"type":"text","text":""}},
 {"width":1,"height":30,"data":{"values":[{}]},"mark":{"type":"text","text":""}},
 {"width":1,"height":30,"data":{"values":[{}]},"mark":{"type":"text","text":""}},
 {"width":1,"height":30,"data":{"values":[{}]},"mark":{"type":"text","text":""}},
 {"width":1,"height":30,"data":{"values":[{}]},"mark":{"type":"text","text":""}},
 {"width":1,"height":30,"data":{"values":[{}]},"mark":{"type":"text","text":""}},
 {"width":1,"height":30,"data":{"values":[{}]},"mark":{"type":"text","text":""}},

 {"width":25,"height":213,"data":{"values":[{}]},"layer":[
  {"mark":{"type":"rect","fill":"white","stroke":"#262626","strokeWidth":1},"encoding":{"x":{"datum":0,"type":"quantitative","scale":{"domain":[0,1],"nice":false},"axis":null},"x2":{"datum":1},"y":{"datum":0.249,"type":"quantitative","scale":{"domain":[0,1],"nice":false},"axis":null},"y2":{"datum":0.606}}},
  {"mark":{"type":"text","text":"Bi-Net","angle":270,"font":"Lato","fontSize":15,"color":"#262626"},"encoding":{"y":{"datum":0.4275,"type":"quantitative"}}}
 ]},
 {"width":80,"height":10,"data":{"values":[{}]},"mark":{"type":"text","text":""}},
 {"width":255,"height":213,"view":{"stroke":"#262626"},"title":{"text":"B","dx":-68,"dy":7},
  "layer":[
   {"layer":[
    {"data":{"name":"histB"},"mark":{"type":"rect","opacity":0.8,"clip":true},"encoding":{"x":{"field":"a","type":"quantitative","scale":{"domain":[0.0225,0.15],"nice":false,"zero":false},"axis":{"values":[0.04,0.08,0.12],"format":"~g","title":"dᴀʙ"}},"x2":{"field":"b"},"y":{"field":"y","type":"quantitative","scale":{"domain":[3,300],"nice":false,"zero":false},"axis":{"values":[50,100,150,200,250],"title":"PDF"}},"y2":{"datum":0},"color":{"field":"s","type":"nominal","scale":{"domain":["b","t","g","y"],"range":["#3b528b","#21918c","#4ac16d","#c0df25"]},"legend":null}}},
    {"data":{"name":"curveB"},"mark":{"type":"line","color":"black","strokeWidth":1.8,"interpolate":"monotone","clip":true},"encoding":{"x":{"field":"x","type":"quantitative"},"y":{"field":"y","type":"quantitative"},"detail":{"field":"s"}}}
   ]},
   {"layer":[
    {"data":{"values":[{}]},"mark":{"type":"rect","fill":"white","stroke":"#262626","strokeWidth":1},"encoding":{"x":{"datum":49,"type":"quantitative","scale":{"type":"log","domain":[49,190000],"range":[119,247],"nice":false},"axis":{"orient":"bottom","offset":-99,"values":[100,1000,10000,100000],"labelExpr":"'10' + (datum.value < 500 ? '²' : (datum.value < 5000 ? '³' : (datum.value < 50000 ? '⁴' : '⁵')))","title":"t","titleFontSize":20,"titlePadding":0,"domain":false,"ticks":false,"labelFontSize":13,"labelPadding":5,"zindex":1}},"x2":{"datum":190000},"y":{"datum":0.034,"type":"quantitative","scale":{"domain":[0.034,0.1034],"range":[114,5],"nice":false,"zero":false},"axis":{"orient":"left","offset":-119,"values":[0.04,0.06,0.08,0.1],"format":"~g","title":"⟨dᴀʙ⟩","titleFontSize":19,"titlePadding":2,"domain":false,"ticks":false,"labelFontSize":13,"labelPadding":3,"zindex":1}},"y2":{"datum":0.1034}}},
    {"data":{"name":"ptsB"},"mark":{"type":"line","color":"black","strokeWidth":3.5},"encoding":{"x":{"field":"t","type":"quantitative"},"y":{"field":"v","type":"quantitative"}}},
    {"data":{"name":"ptsB"},"mark":{"type":"circle","size":95,"opacity":1},"encoding":{"x":{"field":"t","type":"quantitative"},"y":{"field":"v","type":"quantitative"},"color":{"field":"s","type":"nominal","scale":{"domain":["b","t","g","y"],"range":["#3b528b","#21918c","#4ac16d","#c0df25"]},"legend":null}}}
   ]}
  ],
  "resolve":{"scale":{"x":"independent","y":"independent"},"axis":{"x":"independent","y":"independent"}}
 },
 {"width":76,"height":10,"data":{"values":[{}]},"mark":{"type":"text","text":""}},
 {"width":253,"height":213,"view":{"stroke":"#262626"},"title":{"text":"D","dx":-67,"dy":7},
  "layer":[
   {"layer":[
    {"data":{"name":"histD"},"mark":{"type":"rect","opacity":0.8,"clip":true},"encoding":{"x":{"field":"a","type":"quantitative","scale":{"domain":[-0.0017,0.0513],"nice":false,"zero":false},"axis":{"values":[0,0.02,0.04],"format":"~g","title":"dᴀʙ"}},"x2":{"field":"b"},"y":{"field":"y","type":"quantitative","scale":{"domain":[0,505],"nice":false},"axis":{"values":[0,100,200,300,400],"title":"PDF"}},"y2":{"datum":0},"color":{"field":"s","type":"nominal","scale":{"domain":["b","t","g","y"],"range":["#3b528b","#21918c","#4ac16d","#c0df25"]},"legend":null}}},
    {"data":{"name":"curveD"},"mark":{"type":"line","color":"black","strokeWidth":1.8,"interpolate":"monotone","clip":true},"encoding":{"x":{"field":"x","type":"quantitative"},"y":{"field":"y","type":"quantitative"},"detail":{"field":"s"}}}
   ]},
   {"layer":[
    {"data":{"values":[{}]},"mark":{"type":"rect","fill":"white","stroke":"#262626","strokeWidth":1},"encoding":{"x":{"datum":0.63,"type":"quantitative","scale":{"type":"log","domain":[0.63,2040],"range":[119,246],"nice":false},"axis":{"orient":"bottom","offset":-102,"values":[1,10,100,1000],"labelExpr":"'10' + (datum.value < 5 ? '⁰' : (datum.value < 50 ? '¹' : (datum.value < 500 ? '²' : '³')))","title":"n","titleFontSize":20,"titlePadding":2,"domain":false,"ticks":false,"labelFontSize":13,"labelPadding":5,"zindex":1}},"x2":{"datum":2040},"y":{"datum":-0.001,"type":"quantitative","scale":{"domain":[-0.001,0.042],"range":[111,4],"nice":false,"zero":false},"axis":{"orient":"left","offset":-119,"values":[0,0.02,0.04],"format":"~g","title":"⟨dᴀʙ⟩","titleFontSize":19,"titlePadding":2,"domain":false,"ticks":false,"labelFontSize":13,"labelPadding":3,"zindex":1}},"y2":{"datum":0.042}}},
    {"data":{"name":"insD"},"mark":{"type":"line","color":"black","strokeWidth":3.5,"interpolate":"monotone"},"encoding":{"x":{"field":"n","type":"quantitative"},"y":{"field":"v","type":"quantitative"}}},
    {"data":{"name":"ptsD"},"mark":{"type":"circle","size":95,"opacity":1},"encoding":{"x":{"field":"n","type":"quantitative"},"y":{"field":"v","type":"quantitative"},"color":{"field":"s","type":"nominal","scale":{"domain":["b","t","g","y"],"range":["#3b528b","#21918c","#4ac16d","#c0df25"]},"legend":null}}}
   ]}
  ],
  "resolve":{"scale":{"x":"independent","y":"independent"},"axis":{"x":"independent","y":"independent"}}
 },
 {"width":66,"height":10,"data":{"values":[{}]},"mark":{"type":"text","text":""}},
 {"width":197,"height":195,"view":{"stroke":"#262626"},"title":{"text":"F","dx":-56,"dy":0},
  "layer":[
   {"data":{"name":"Fbase"},"mark":{"type":"rect"},"encoding":{"x":{"field":"c0","type":"quantitative","scale":{"domain":[0,50],"nice":false,"zero":false},"axis":{"title":"A","labels":false,"ticks":false,"domain":false,"titleFontSize":22,"titlePadding":8}},"x2":{"field":"c1"},"y":{"field":"r0","type":"quantitative","scale":{"domain":[0,50],"nice":false,"reverse":true},"axis":{"title":"B","labels":false,"ticks":false,"domain":false,"titleFontSize":22,"titleAngle":0,"titleAlign":"right","titleBaseline":"middle","titlePadding":12}},"y2":{"field":"r1"},"color":{"field":"v","type":"quantitative","scale":{"scheme":"magma","domain":[0,0.0475]},"legend":{"values":[0,0.01,0.02,0.03,0.04],"labelExpr":"format(datum.value,'.3~f')","title":"dᴀʙ"}}}},
   {"data":{"name":"Fcells"},"mark":{"type":"rect"},"encoding":{"x":{"field":"c0","type":"quantitative"},"x2":{"field":"c1"},"y":{"field":"r0","type":"quantitative"},"y2":{"field":"r1"},"color":{"field":"v","type":"quantitative"}}},
   {"data":{"name":"Fcells"},"mark":{"type":"rect"},"encoding":{"x":{"field":"r0","type":"quantitative"},"x2":{"field":"r1"},"y":{"field":"c0","type":"quantitative"},"y2":{"field":"c1"},"color":{"field":"v","type":"quantitative"}}},
   {"data":{"name":"diag"},"mark":{"type":"rect","color":"black"},"encoding":{"x":{"field":"a","type":"quantitative"},"x2":{"field":"b"},"y":{"field":"a","type":"quantitative"},"y2":{"field":"b"}}}
  ]
 },
 {"width":71,"height":10,"data":{"values":[{}]},"mark":{"type":"text","text":""}},
 {"width":28,"height":195,"data":{"values":[{}]},"mark":{"type":"text","text":"→","fontSize":26,"color":"#7a7a7a","font":"DejaVu Sans"}},
 {"width":34,"height":10,"data":{"values":[{}]},"mark":{"type":"text","text":""}},
 {"width":196,"height":195,"view":{"stroke":"#262626"},"title":{"text":"H","dx":-63,"dy":0},
  "layer":[
   {"data":{"name":"Hbase"},"mark":{"type":"rect"},"encoding":{"x":{"field":"c0","type":"quantitative","scale":{"domain":[0,50],"nice":false,"zero":false},"axis":{"title":"A","labels":false,"ticks":false,"domain":false,"titleFontSize":22,"titlePadding":8}},"x2":{"field":"c1"},"y":{"field":"r0","type":"quantitative","scale":{"domain":[0,50],"nice":false,"reverse":true},"axis":{"title":"B","labels":false,"ticks":false,"domain":false,"titleFontSize":22,"titleAngle":0,"titleAlign":"right","titleBaseline":"middle","titlePadding":12}},"y2":{"field":"r1"},"color":{"field":"v","type":"quantitative","scale":{"scheme":"magma","domain":[0,0.00328]},"legend":{"values":[0,0.001,0.002,0.003],"labelExpr":"format(datum.value,'.3~f')","title":"dᴀʙ","offset":16}}}},
   {"data":{"name":"Hcells"},"mark":{"type":"rect"},"encoding":{"x":{"field":"c0","type":"quantitative"},"x2":{"field":"c1"},"y":{"field":"r0","type":"quantitative"},"y2":{"field":"r1"},"color":{"field":"v","type":"quantitative"}}},
   {"data":{"name":"Hcells"},"mark":{"type":"rect"},"encoding":{"x":{"field":"r0","type":"quantitative"},"x2":{"field":"r1"},"y":{"field":"c0","type":"quantitative"},"y2":{"field":"c1"},"color":{"field":"v","type":"quantitative"}}},
   {"data":{"name":"diag"},"mark":{"type":"rect","color":"black"},"encoding":{"x":{"field":"a","type":"quantitative"},"x2":{"field":"b"},"y":{"field":"a","type":"quantitative"},"y2":{"field":"b"}}}
  ]
 }
]
}
